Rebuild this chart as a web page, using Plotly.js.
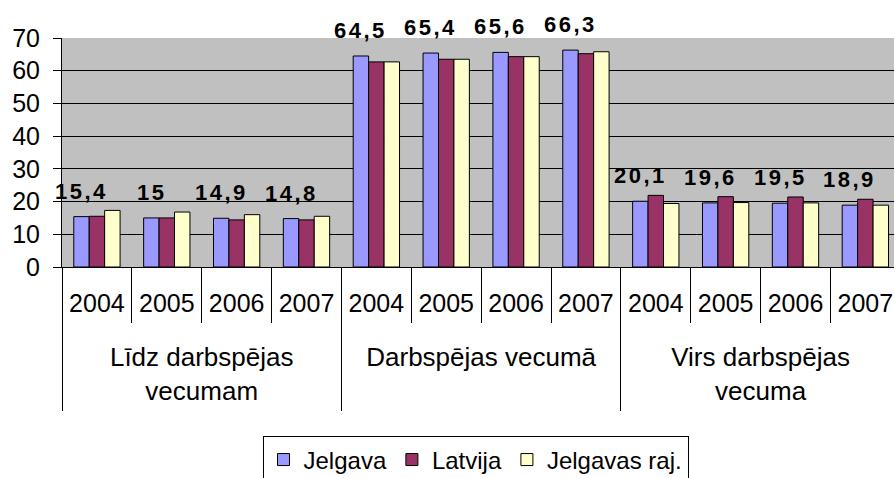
<!DOCTYPE html>
<html>
<head>
<meta charset="utf-8">
<script src="https://cdn.plot.ly/plotly-3.0.1.min.js"></script>
<style>
  html, body { margin: 0; padding: 0; background: #fff; }
  #chart { width: 894px; height: 478px; }
  .annotation-text { letter-spacing: 2.5px; }
</style>
</head>
<body>
<div id="chart"></div>
<script>
// ---- data ----
const groups = ['Līdz darbspējas<br>vecumam', 'Darbspējas vecumā', 'Virs darbspējas<br>vecuma'];
const years = ['2004', '2005', '2006', '2007'];
const seriesNames = ['Jelgava', 'Latvija', 'Jelgavas raj.'];
const jelgava     = [15.4, 15.0, 14.9, 14.8, 64.5, 65.4, 65.6, 66.3, 20.1, 19.6, 19.5, 18.9];
const latvija     = [15.5, 15.0, 14.4, 14.4, 62.7, 63.5, 64.3, 65.2, 21.9, 21.5, 21.4, 20.7];
const jelgavasRaj = [17.3, 16.8, 16.0, 15.5, 62.7, 63.5, 64.3, 65.8, 19.4, 19.7, 19.6, 18.9];
const valueLabels = ['15,4', '15', '14,9', '14,8', '64,5', '65,4', '65,6', '66,3', '20,1', '19,6', '19,5', '18,9'];
const yTicks = [0, 10, 20, 30, 40, 50, 60, 70];

// ---- derived positions ----
const nCat = groups.length * years.length;
const idx = [];
const yearText = [];
for (let g = 0; g < groups.length; g++) {
  for (let y = 0; y < years.length; y++) { idx.push(g * years.length + y); yearText.push(years[y]); }
}
const catBoundaries = [];
for (let i = 0; i <= nCat; i++) catBoundaries.push(i - 0.5);
const groupBoundaries = [];
for (let g = 0; g <= groups.length; g++) groupBoundaries.push(g * years.length - 0.5);
const groupCenters = groups.map((_, g) => g * years.length + (years.length - 1) / 2);

const colors = ['#9999FF', '#993366', '#FFFFCC'];
const FONT = 'Liberation Sans, Arial, sans-serif';
const bargap = 0.337;
const xRange = [-0.5, 11.41];

const allSeries = [jelgava, latvija, jelgavasRaj];
const traces = allSeries.map((vals, s) => ({
  type: 'bar',
  name: seriesNames[s],
  x: idx,
  y: vals,
  marker: { color: colors[s], line: { color: '#000', width: 1 } },
  hoverinfo: 'skip'
}));
traces.push({ type: 'scatter', x: [], y: [], xaxis: 'x2', showlegend: false, hoverinfo: 'skip' });

const labelOffset = -(1 - bargap) / 3;
const annotations = jelgava.map((v, i) => ({
  x: idx[i] + labelOffset, y: v, xref: 'x', yref: 'y',
  text: valueLabels[i], showarrow: false,
  xanchor: 'center', yanchor: 'bottom', yshift: 11,
  font: { family: FONT, size: 22, color: '#000', weight: 'bold' }
}));

const layout = {
  width: 894, height: 478,
  margin: { l: 62, r: 0, t: 38, b: 211, autoexpand: false },
  paper_bgcolor: '#ffffff',
  plot_bgcolor: '#C0C0C0',
  barmode: 'group',
  bargap: bargap,
  bargroupgap: 0,
  font: { family: FONT, color: '#000' },
  xaxis: {
    type: 'linear', range: xRange, fixedrange: true,
    tickmode: 'array', tickvals: idx, ticktext: yearText,
    ticks: '', ticklabelstandoff: 14, ticklabeloverflow: 'allow',
    tickfont: { family: FONT, size: 25, color: '#000' },
    showgrid: false, zeroline: false,
    showline: true, linecolor: '#000', linewidth: 1,
    minor: { tickmode: 'array', tickvals: catBoundaries, ticks: 'outside', ticklen: 55, tickwidth: 1, tickcolor: '#000', showgrid: false }
  },
  xaxis2: {
    type: 'linear', range: xRange, overlaying: 'x', anchor: 'y', side: 'bottom', fixedrange: true,
    tickmode: 'array', tickvals: groupCenters, ticktext: groups,
    ticks: '', ticklabelstandoff: 72, ticklabeloverflow: 'allow',
    tickfont: { family: FONT, size: 26, color: '#000' },
    showgrid: false, zeroline: false, showline: false,
    minor: { tickmode: 'array', tickvals: groupBoundaries, ticks: 'outside', ticklen: 143, tickwidth: 1, tickcolor: '#000', showgrid: false }
  },
  yaxis: {
    range: [0, 70], fixedrange: true,
    tickmode: 'array', tickvals: yTicks,
    ticks: 'outside', ticklen: 8, tickcolor: '#000', tickwidth: 1,
    ticklabelstandoff: 8,
    tickfont: { family: FONT, size: 25, color: '#000' },
    showgrid: true, gridcolor: '#000', gridwidth: 1,
    zeroline: false, showline: true, linecolor: '#000', linewidth: 1
  },
  showlegend: true,
  legend: {
    orientation: 'h', x: 0.497, xanchor: 'center', y: -0.74, yanchor: 'top',
    font: { family: FONT, size: 24, color: '#000' },
    bordercolor: '#000', borderwidth: 1, bgcolor: '#fff',
    traceorder: 'normal'
  },
  annotations: annotations
};

Plotly.newPlot('chart', traces, layout, { displayModeBar: false, staticPlot: true });
</script>
</body>
</html>
